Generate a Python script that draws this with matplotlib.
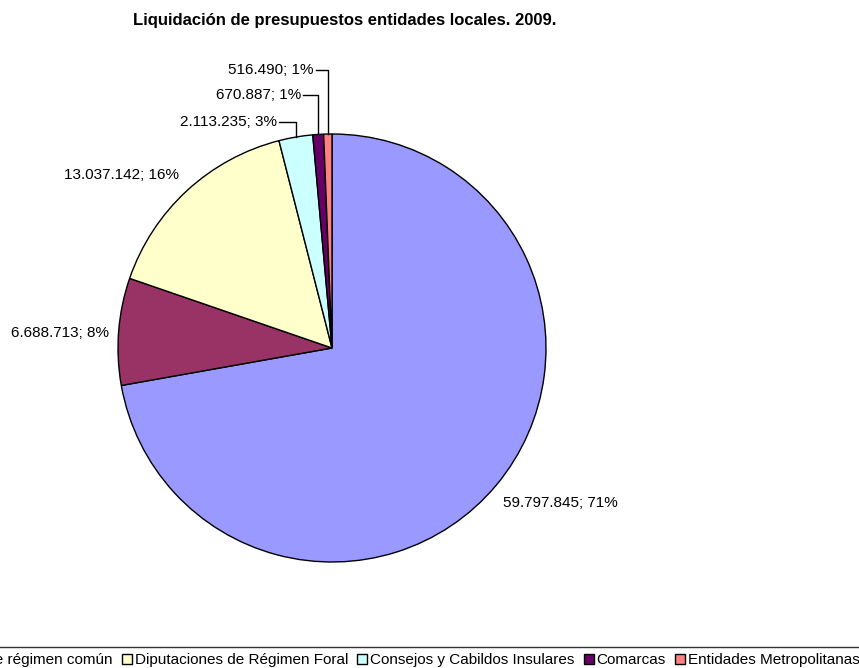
import numpy as np
import matplotlib
matplotlib.use('Agg')
import matplotlib.pyplot as plt

plt.rcParams['font.family'] = ['Liberation Sans', 'DejaVu Sans']

# Data
categories = ['Ayuntamientos de régimen común', 'Diputaciones de régimen común',
              'Diputaciones de Régimen Foral', 'Consejos y Cabildos Insulares',
              'Comarcas', 'Entidades Metropolitanas']
values = [59797845, 6688713, 13037142, 2113235, 670887, 516490]
percent_labels = ['71%', '8%', '16%', '3%', '1%', '1%']
colors = ['#9999FF', '#993366', '#FFFFCC', '#CCFFFF', '#660066', '#FF8080']

title = 'Liquidación de presupuestos entidades locales. 2009.'

def fmt(v):
    return f'{v:,}'.replace(',', '.')

W, H = 859, 668
fig = plt.figure(figsize=(W / 100, H / 100), dpi=100)
ax = fig.add_axes([0, 0, 1, 1])

cx, cy, r = 332, 320, 214
wedges, _ = ax.pie(values, colors=colors, startangle=90, counterclock=False,
                   center=(cx, cy), radius=r, frame=True,
                   wedgeprops=dict(edgecolor='black', linewidth=1))
ax.set_xlim(0, W)
ax.set_ylim(0, H)
ax.axis('off')

# label positions (text anchor), leader line flag
label_pos = [(503, 165, 'left', False),
             (109, 335, 'right', False),
             (179, 493, 'right', False),
             (277, 546, 'right', True),
             (301, 573, 'right', True),
             (314, 598, 'right', True)]

for w, v, p, (lx, ly, ha, leader) in zip(wedges, values, percent_labels, label_pos):
    ax.text(lx, ly, f'{fmt(v)}; {p}', ha=ha, va='center', fontsize=11)
    if leader:
        ang = np.deg2rad((w.theta1 + w.theta2) / 2)
        xm = cx + r * np.cos(ang)
        ym = cy + r * np.sin(ang)
        ax.plot([lx + 2, xm, xm], [ly, ly, ym], color='black', lw=1)

fig.text(345 / W, 1 - 20 / H, title, ha='center', va='center',
         fontsize=12, fontweight='bold')

leg = ax.legend(wedges, categories, ncol=6, loc='upper right',
                bbox_to_anchor=(866 / W, 21 / H), bbox_transform=fig.transFigure,
                borderaxespad=0, fontsize=11, handlelength=0.65, handleheight=0.65,
                handletextpad=0.2, columnspacing=0.6, borderpad=0.4,
                fancybox=False, frameon=True, edgecolor='black')
leg.get_frame().set_linewidth(1)

fig.savefig('out.png', dpi=100)
